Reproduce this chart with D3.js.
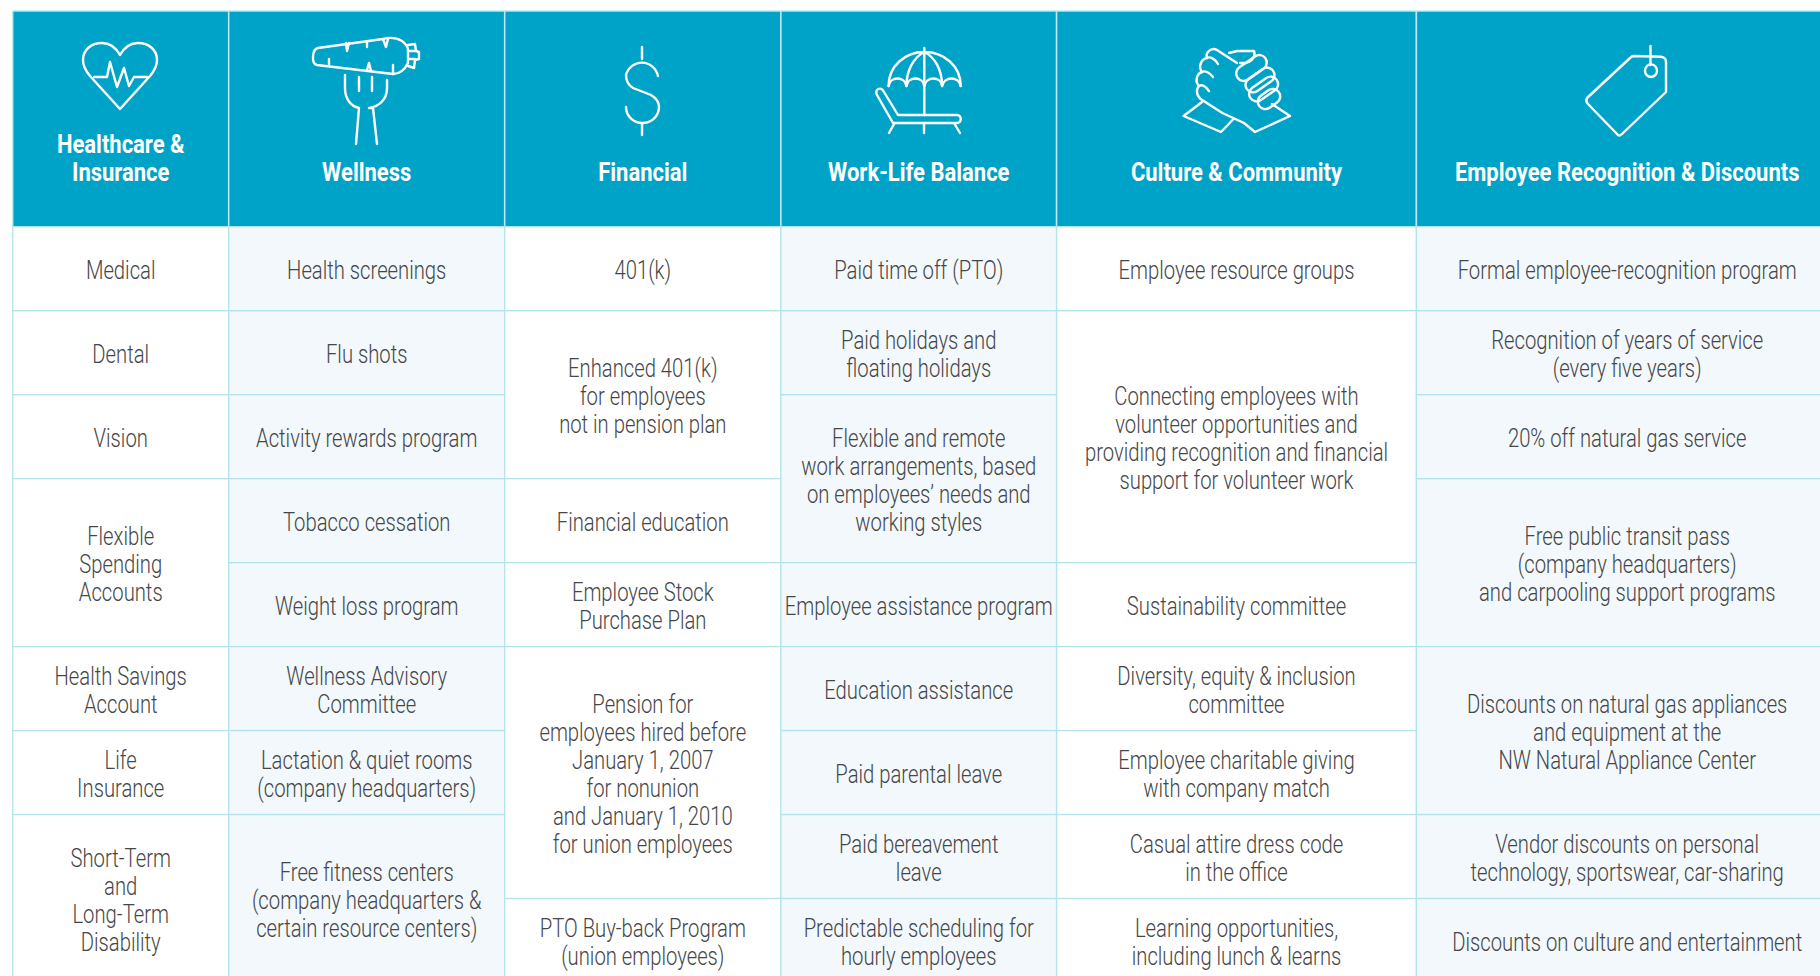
<!DOCTYPE html>
<html>
<head>
<meta charset="utf-8">
<script src="https://d3js.org/d3.v7.min.js"></script>
<style>
  html, body { margin: 0; background: #fff; overflow: hidden; }
  text { font-family: Roboto, sans-serif; text-anchor: middle; }
</style>
</head>
<body>
<div id="container"></div>
<script>
/* DATA */
const headers = ["Healthcare &\nInsurance", "Wellness", "Financial", "Work-Life Balance", "Culture & Community", "Employee Recognition & Discounts"]

// each cell is [text, rows spanned]
const healthcare = [
  ["Medical", 1], ["Dental", 1], ["Vision", 1],
  ["Flexible\nSpending\nAccounts", 2],
  ["Health Savings\nAccount", 1],
  ["Life\nInsurance", 1],
  ["Short-Term\nand\nLong-Term\nDisability", 2]
]
const wellness = [
  ["Health screenings", 1], ["Flu shots", 1], ["Activity rewards program", 1],
  ["Tobacco cessation", 1], ["Weight loss program", 1],
  ["Wellness Advisory\nCommittee", 1],
  ["Lactation & quiet rooms\n(company headquarters)", 1],
  ["Free fitness centers\n(company headquarters &\ncertain resource centers)", 2]
]
const financial = [
  ["401(k)", 1],
  ["Enhanced 401(k)\nfor employees\nnot in pension plan", 2],
  ["Financial education", 1],
  ["Employee Stock\nPurchase Plan", 1],
  ["Pension for\nemployees hired before\nJanuary 1, 2007\nfor nonunion\nand January 1, 2010\nfor union employees", 3],
  ["PTO Buy-back Program\n(union employees)", 1]
]
const workLife = [
  ["Paid time off (PTO)", 1],
  ["Paid holidays and\nfloating holidays", 1],
  ["Flexible and remote\nwork arrangements, based\non employees’ needs and\nworking styles", 2],
  ["Employee assistance program", 1],
  ["Education assistance", 1],
  ["Paid parental leave", 1],
  ["Paid bereavement\nleave", 1],
  ["Predictable scheduling for\nhourly employees", 1]
]
const culture = [
  ["Employee resource groups", 1],
  ["Connecting employees with\nvolunteer opportunities and\nproviding recognition and financial\nsupport for volunteer work", 3],
  ["Sustainability committee", 1],
  ["Diversity, equity & inclusion\ncommittee", 1],
  ["Employee charitable giving\nwith company match", 1],
  ["Casual attire dress code\nin the office", 1],
  ["Learning opportunities,\nincluding lunch & learns", 1]
]
const recognition = [
  ["Formal employee-recognition program", 1],
  ["Recognition of years of service\n(every five years)", 1],
  ["20% off natural gas service", 1],
  ["Free public transit pass\n(company headquarters)\nand carpooling support programs", 2],
  ["Discounts on natural gas appliances\nand equipment at the\nNW Natural Appliance Center", 2],
  ["Vendor discounts on personal\ntechnology, sportswear, car-sharing", 1],
  ["Discounts on culture and entertainment", 1]
]
const columns = [healthcare, wellness, financial, workLife, culture, recognition]

/* CONSTANTS AND GLOBALS */
const width = 1820, height = 976
// last edge sits past the window, the table is cut off on the right
const colEdges = [12.7, 228.7, 504.7, 780.9, 1056.6, 1416.4, 1838]
const headTop = 11, headBottom = 226.8, rowCount = 9, rowBottom = 982.5
const lineHeight = 28, bodyScale = 0.81, headScale = 0.88
const teal = "#00a3c8", grid = "#b4e3ea", shade = "#f2f8fb", ink = "#454648"

// SCALES
const xScale = d3.scaleOrdinal(d3.range(colEdges.length), colEdges)
const yScale = d3.scaleLinear().domain([0, rowCount]).range([headBottom, rowBottom])

// CREATE SVG ELEMENT
const svg = d3.select("#container").append("svg")
  .attr("width", width).attr("height", height)
  .style("display", "block")

// HEADER
const head = svg.selectAll(".head")
  .data(headers)
  .join("g")
  .attr("class", "head")

head.append("rect")
  .attr("x", (d, i) => xScale(i))
  .attr("y", headTop)
  .attr("width", (d, i) => xScale(i + 1) - xScale(i))
  .attr("height", headBottom - headTop)
  .attr("fill", teal)
  .attr("stroke", "#bfe7ee")
  .attr("stroke-width", 1.5)

head.each(function(d, i) {
  const lines = d.split("\n")
  d3.select(this).selectAll("text")
    .data(lines)
    .join("text")
    .attr("transform", (l, k) => `translate(${(xScale(i) + xScale(i + 1)) / 2},${181 - (lines.length - 1 - k) * lineHeight}) scale(${headScale},1)`)
    .attr("fill", "#fff")
    .attr("font-size", 25)
    .attr("font-weight", 700)
    .text(l => l)
})

// BODY CELLS
columns.forEach((cells, c) => {
  let row = 0
  const placed = cells.map(([label, span]) => {
    const cell = { label, span, row }
    row += span
    return cell
  })
  const g = svg.append("g").attr("class", "col")

  g.selectAll("rect")
    .data(placed)
    .join("rect")
    .attr("x", xScale(c))
    .attr("y", d => yScale(d.row))
    .attr("width", xScale(c + 1) - xScale(c))
    .attr("height", d => yScale(d.row + d.span) - yScale(d.row))
    .attr("fill", c % 2 ? shade : "#fff")
    .attr("stroke", grid)
    .attr("stroke-width", 1.3)

  g.selectAll("g")
    .data(placed)
    .join("g")
    .each(function(d) {
      const lines = d.label.split("\n")
      const mid = yScale(d.row + d.span / 2)
      d3.select(this).selectAll("text")
        .data(lines)
        .join("text")
        .attr("transform", (l, k) => `translate(${(xScale(c) + xScale(c + 1)) / 2},${mid + 10.6 + (k - (lines.length - 1) / 2) * lineHeight}) scale(${bodyScale},1)`)
        .attr("fill", ink)
        .attr("font-size", 25)
        .attr("font-weight", 300)
        .text(l => l)
    })
})

// ICONS
const iconPaths = [
  // heart
  "M120 109 L90 76 C84 69 83 65 83 60 C83 50 91 43 102 43 C110 43 116 48 120 55 C124 48 130 43 138 43 C149 43 157 50 157 60 C157 65 156 69 150 76 Z",
  "M94 77 H107 L110 62 L117 87 L124 68 L129 86 L134 77 H147",
  // carrot and fork
  "M318 48 L383 39 C390 37 397 38 402 41 C406 44 408 47 408 50 V63 C405 69 400 74 393 74 L317 65 C311 64 312 49 318 48 Z",
  "M346 43 L347 51 L349 43 M367 42 V47 M383 39 L386 47 L388 39 M329 59 V65 M367 70 L369 63 L371 71 M393 65 V74",
  "M408 45 L415 44 L416 51 L419 52 V59 L415 60 L414 68 L408 66 M410 51 H416 M410 59 H415",
  "M345 75 V88 C345 98 350 106 359 108 L356 144 M387 80 V88 C387 98 381 106 369 108 L373 108 L377 144 M359 77 V91 M372 77 V91",
  // dollar
  "M658 76 A16.5 17 0 0 0 626 75 C626 81 628 85 633 88 L651 95 C656 98 659 102 659 107 A16.5 16 0 0 1 626 107 M642 47 V59 M642 123 V135",
  // umbrella and lounger
  "M888.6 86 C888.6 66 905 52 924.3 52 C944 52 960.7 66 960.7 86 M924.3 48 V115",
  "M888.6 86 C890 76 905 76 906.4 86 C908 76 923 76 924.3 86 C926 76 941 76 942.1 86 C944 76 959 76 960.7 86",
  "M906.4 86 C906.4 70 914 57 924.3 52 C935 57 942.1 70 942.1 86",
  "M877 95 L893 123 H957 C962 123 962 115 957 115 H898 L884 92 C881 86 874 89 877 95 Z M894.6 123 L889 133 M924 123 V133 M954 123 L960 133",
  // handshake
  "M1202 102 L1183.6 116 L1221 132 L1233.5 119 M1272 104 L1290 116 L1255 132 L1244 123",
  "M1200.6 99 L1222.4 113 L1244 123 M1200.6 99 C1196 95 1196 89 1199 86 C1195 82 1196 74 1202 72 C1198 67 1201 59 1207 58 C1205 52 1212 47 1217 50 L1237 63",
  "M1199 86 C1202 84 1206 87 1209 91 M1202 72 C1205 70 1210 73 1213 77 M1207 58 C1210 56 1215 59 1218 64",
  "M1229 53 L1237 51 H1254 C1256 56 1252 62 1245 63 L1240 63",
  // tag
  "M1634 56 L1661 56.7 C1664 57 1666 59 1666 62 V92 L1622 134 C1620 136 1618 136 1617 134 L1588 104 C1586 102 1586 100 1587 98 L1630 58 C1631 57 1632 56 1634 56 Z M1650.5 46 V65"
]

svg.append("g")
  .attr("fill", "none")
  .attr("stroke", "#fff")
  .attr("stroke-width", 2.4)
  .attr("stroke-linejoin", "round")
  .attr("stroke-linecap", "round")
  .selectAll("path")
  .data(iconPaths)
  .join("path")
  .attr("d", d => d)

// knuckles of the handshake, one per finger
const knuckles = [[1251.5, 68, 34], [1260, 80, 32], [1263.6, 89, 32], [1269, 99, 24]]
svg.selectAll(".knuckle")
  .data(knuckles)
  .join("rect")
  .attr("class", "knuckle")
  .attr("x", d => -d[2] / 2)
  .attr("y", -7.5)
  .attr("width", d => d[2])
  .attr("height", 15)
  .attr("rx", 7.5)
  .attr("transform", d => `translate(${d[0]},${d[1]}) rotate(-35)`)
  .attr("fill", "none")
  .attr("stroke", "#fff")
  .attr("stroke-width", 2.4)

// tag hole
svg.append("ellipse")
  .attr("cx", 1651).attr("cy", 70.7)
  .attr("rx", 6).attr("ry", 6.3)
  .attr("fill", "none")
  .attr("stroke", "#fff")
  .attr("stroke-width", 2.4)
</script>
</body>
</html>
